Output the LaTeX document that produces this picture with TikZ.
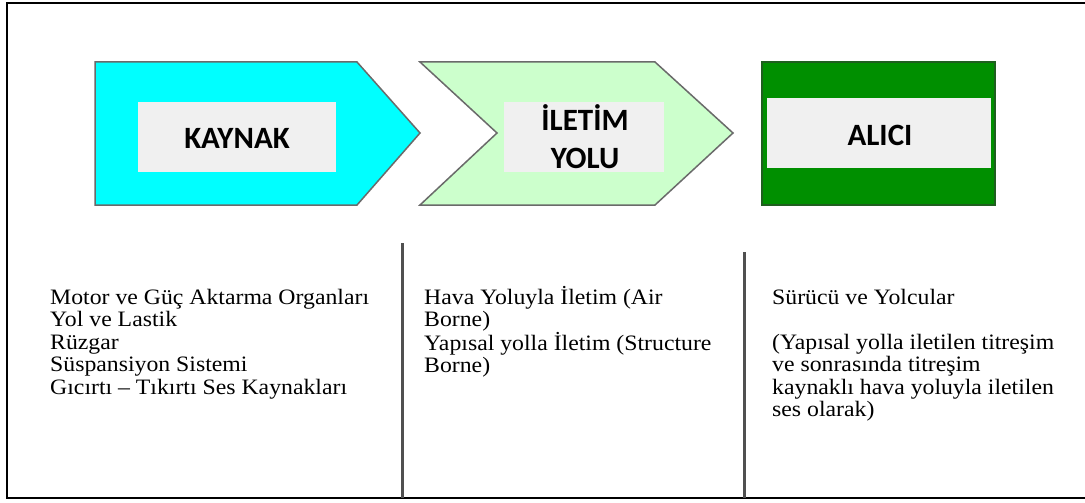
\documentclass[tikz,border=0pt]{standalone}
\usepackage{fontspec}
\setmainfont{Liberation Serif}[FakeStretch=1.08]
\newfontfamily\hdrfont{Carlito}
\definecolor{cyanfill}{HTML}{00FFFF}
\definecolor{lgreen}{HTML}{CCFFCC}
\definecolor{dgreen}{HTML}{008F00}
\definecolor{dgreenedge}{HTML}{1F5F1F}
\definecolor{inner}{HTML}{F0F0F0}
\definecolor{edgegray}{HTML}{6A6A6A}
\definecolor{sepgray}{HTML}{505050}
\begin{document}
\begin{tikzpicture}[x=1pt,y=-1pt,
  shapeedge/.style={draw=edgegray,line width=1.5pt,line join=miter},
  innerbox/.style={fill=inner,draw=none},
  hdr/.style={font=\hdrfont\bfseries\fontsize{31}{38}\selectfont,align=center,inner sep=0pt},
  body/.style={anchor=base west,inner sep=0pt},
  sepline/.style={draw=sepgray,line width=3pt},
  frame/.style={draw=black,line width=2pt}]
\useasboundingbox[fill=white] (0,0) rectangle (1085,503);
% outer frame
\draw[frame] (1085,3) -- (7,3) -- (7,498) -- (1085,498);
% KAYNAK
\path[shapeedge,fill=cyanfill] (95,62) -- (357,62) -- (420,133) -- (357,205) -- (95,205) -- cycle;
\path[innerbox] (138,102) rectangle (336,172);
\node[hdr] (kaynak) at (237,138) {KAYNAK};
% ILETIM YOLU
\path[shapeedge,fill=lgreen] (420,62) -- (655,62) -- (733,133) -- (655,205) -- (420,205) -- (497,133) -- cycle;
\path[innerbox] (504,102) rectangle (664,172);
\node[hdr] (iletim) at (585,137) {İLETİM\\YOLU};
% ALICI
\path[draw=dgreenedge,line width=2pt,fill=dgreen] (762,62) rectangle (995,205);
\path[innerbox] (767,98) rectangle (991,168);
\node[hdr] (alici) at (880,135) {ALICI};
% separators
\draw[sepline] (402,243) -- (402,498);
\draw[sepline] (744,252) -- (744,498);
% columns
\node[body] (col1) at (50,304) {\parbox[t]{340pt}{\fontsize{22}{22.5}\selectfont
Motor ve Güç Aktarma Organları\\
Yol ve Lastik\\
Rüzgar\\
Süspansiyon Sistemi\\
Gıcırtı – Tıkırtı Ses Kaynakları}};
\node[body] (col2) at (424,304) {\parbox[t]{315pt}{\fontsize{22}{22.5}\selectfont
Hava Yoluyla İletim (Air\\
Borne)\\
Yapısal yolla İletim (Structure\\
Borne)}};
\node[body] (col3) at (772,304) {\parbox[t]{305pt}{\fontsize{22}{22.5}\selectfont
Sürücü ve Yolcular\\[22.5pt]
(Yapısal yolla iletilen titreşim\\
ve sonrasında titreşim\\
kaynaklı hava yoluyla iletilen\\
ses olarak)}};
\end{tikzpicture}
\end{document}
